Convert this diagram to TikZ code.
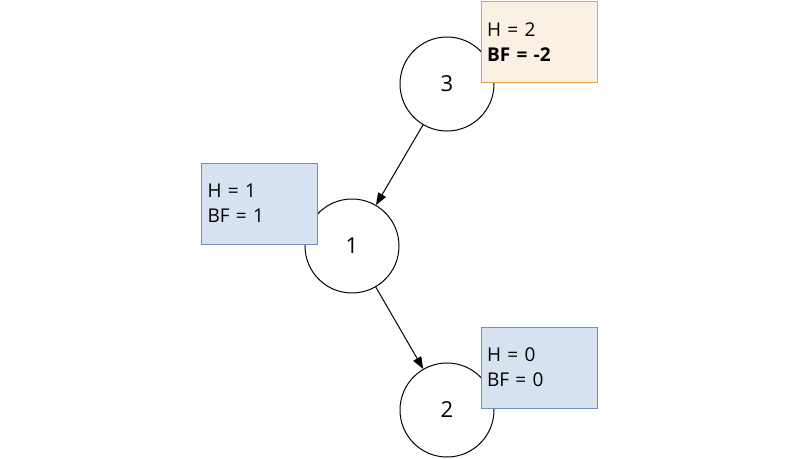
\documentclass[tikz,border=0pt]{standalone}
\usepackage{fontspec}
\setmainfont{Open Sans}
\usetikzlibrary{arrows.meta}
\begin{document}
\begin{tikzpicture}[x=1pt,y=-1pt,
  circ/.style={circle,draw,line width=1pt,minimum size=94pt,inner sep=0pt,font=\fontsize{22}{26}\selectfont},
  info/.style={draw,line width=1pt,minimum width=116pt,minimum height=81pt,text width=104pt,align=left,font=\fontsize{19}{25}\selectfont,inner sep=6pt},
  blu/.style={info,fill=blue!5!white,fill={rgb,255:red,214;green,226;blue,240},draw={rgb,255:red,108;green,142;blue,191}},
  org/.style={info,fill={rgb,255:red,250;green,240;blue,228},draw={rgb,255:red,235;green,160;blue,70}},
  arr/.style={-{Triangle[length=12pt,width=9pt]},line width=1pt}]
\useasboundingbox (0,0) rectangle (800,458);
\node[circ] (c3) at (447,84) {3};
\node[circ] (c1) at (352,246) {1};
\node[circ] (c2) at (447,410) {2};
\draw[arr] (c3) -- (c1);
\draw[arr] (c1) -- (c2);
\node[org] (b3) at (539,42) {H = 2\\\textbf{BF = -2}};
\node[blu] (b1) at (259.5,203.5) {H = 1\\BF = 1};
\node[blu] (b2) at (539,367.5) {H = 0\\BF = 0};
\end{tikzpicture}
\end{document}
